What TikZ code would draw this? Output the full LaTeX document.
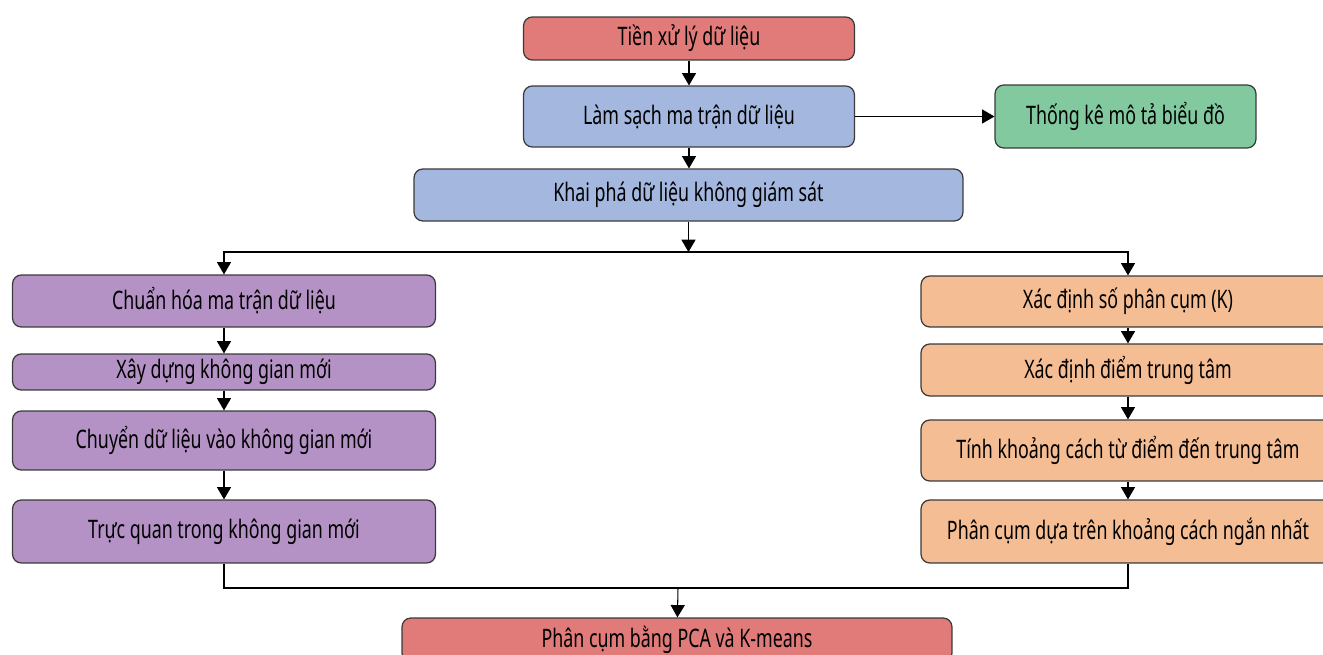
\documentclass[tikz,border=0pt]{standalone}
\usepackage{fontspec}
\setmainfont[FakeStretch=0.7]{Noto Sans}
\usetikzlibrary{arrows.meta,positioning,calc}
\definecolor{hong}{HTML}{E07B7A}
\definecolor{lam}{HTML}{A3B7DF}
\definecolor{xanhla}{HTML}{82C9A0}
\definecolor{tim}{HTML}{B592C6}
\definecolor{cam}{HTML}{F5BD94}
\definecolor{vien}{HTML}{3A3A3A}

\begin{document}
\begin{tikzpicture}[
  x=0.02cm, y=-0.02cm,
  box/.style={
    draw=vien, rounded corners=5pt, line width=0.7pt,
    align=center, inner sep=2pt,
    font=\fontsize{14.5}{16}\selectfont
  },
  arr/.style={-{Triangle[length=7pt, width=8pt]}, line width=0.6pt, color=black}
]
  \useasboundingbox (0,0) rectangle (1323,655);
  \clip (0,0) rectangle (1323,655);
  % top chain
  \node[box, fill=hong, minimum width=6.62cm, minimum height=0.86cm] (tien) at (689,38.5) {Tiền xử lý dữ liệu};
  \node[box, fill=lam, minimum width=6.62cm, minimum height=1.22cm] (sach) at (689,116.5) {Làm sạch ma trận dữ liệu};
  \node[box, fill=xanhla, minimum width=5.22cm, minimum height=1.26cm] (thongke) at (1125.5,116.5) {Thống kê mô tả biểu đồ};
  \node[box, fill=lam, minimum width=10.98cm, minimum height=1.04cm] (khaipha) at (688.5,195) {Khai phá dữ liệu không giám sát};
  \draw[arr] (tien) -- (sach);
  \draw[arr] (sach) -- (thongke);
  \draw[arr] (sach) -- (sach |- khaipha.north);
  % left branch
  \node[box, fill=tim, minimum width=8.46cm, minimum height=1.04cm] (chuanhoa) at (224,301) {Chuẩn hóa ma trận dữ liệu};
  \node[box, fill=tim, minimum width=8.46cm, minimum height=0.72cm] (xaydung) at (224,372) {Xây dựng không gian mới};
  \node[box, fill=tim, minimum width=8.46cm, minimum height=1.18cm] (chuyen) at (224,440.5) {Chuyển dữ liệu vào không gian mới};
  \node[box, fill=tim, minimum width=8.46cm, minimum height=1.26cm] (trucquan) at (224,531.5) {Trực quan trong không gian mới};
  \draw[arr] (chuanhoa) -- (xaydung);
  \draw[arr] (xaydung) -- (chuyen);
  \draw[arr] (chuyen) -- (trucquan);
  % right branch
  \node[box, fill=cam, minimum width=8.28cm, minimum height=1.02cm] (sophan) at (1128,301.5) {Xác định số phân cụm (K)};
  \node[box, fill=cam, minimum width=8.28cm, minimum height=1.04cm] (tamdiem) at (1128,370) {Xác định điểm trung tâm};
  \node[box, fill=cam, minimum width=8.28cm, minimum height=1.22cm] (khoangcach) at (1128,450.5) {Tính khoảng cách từ điểm đến trung tâm};
  \node[box, fill=cam, minimum width=8.28cm, minimum height=1.26cm] (phancum) at (1128,531.5) {Phân cụm dựa trên khoảng cách ngắn nhất};
  \draw[arr] (sophan) -- (tamdiem);
  \draw[arr] (tamdiem) -- (khoangcach);
  \draw[arr] (khoangcach) -- (phancum);
  % fork and join
  \coordinate (tach) at (688.5,252);
  \coordinate (gop) at (678,588);
  \draw[arr] (khaipha) -- (tach);
  \draw[arr] (tach) -| (chuanhoa.north);
  \draw[arr] (tach) -| (sophan.north);
  \node[box, fill=hong, minimum width=11cm, minimum height=0.88cm] (ketqua) at (677,640) {Phân cụm bằng PCA và K-means};
  \draw[line width=0.6pt] (trucquan.south) |- (gop) -| (phancum.south);
  \draw[arr] (gop) -- (ketqua);
\end{tikzpicture}
\end{document}
